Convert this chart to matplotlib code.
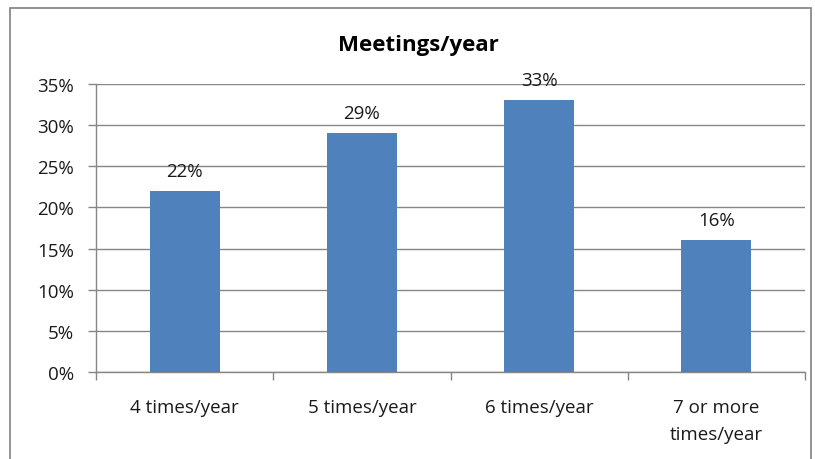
import matplotlib
matplotlib.use("Agg")
import matplotlib.pyplot as plt
from matplotlib.patches import Rectangle

categories = ["4 times/year", "5 times/year", "6 times/year", "7 or more\ntimes/year"]
values = [22, 29, 33, 16]
yticks = [0, 5, 10, 15, 20, 25, 30, 35]
ytick_labels = [f"{v}%" for v in yticks]
title = "Meetings/year"

plt.rcParams["font.family"] = ["Open Sans", "DejaVu Sans"]

fig = plt.figure(figsize=(8.15, 4.6), dpi=100)
ax = fig.add_axes([96 / 815, 87 / 460, 709 / 815, 288 / 460])

grid_col = "#868686"
bar_col = "#4F81BD"
text_col = "#1a1a1a"
fs = 13.5

x = list(range(len(categories)))
ax.bar(x, values, width=0.395, color=bar_col, zorder=3)

for xi, v in zip(x, values):
    ax.annotate(f"{v}%", (xi, v), xytext=(0, 8), textcoords="offset points",
                ha="center", va="bottom", fontsize=fs, color=text_col)

ax.set_xlim(-0.5, len(categories) - 0.5)
ax.set_ylim(0, 35)
ax.set_yticks(yticks)
ax.set_yticklabels(ytick_labels, fontsize=fs, color=text_col)
ax.yaxis.grid(True, color=grid_col, linewidth=1, zorder=0)
ax.tick_params(axis="y", length=6, color=grid_col, width=1, pad=10)

ax.set_xticks(x)
ax.set_xticklabels(categories, fontsize=fs, color=text_col, linespacing=1.6)
ax.tick_params(axis="x", length=0, pad=19)
ax.set_xticks([i - 0.5 for i in range(len(categories) + 1)], minor=True)
ax.tick_params(axis="x", which="minor", length=6, color=grid_col, width=1)

for side in ["top", "right"]:
    ax.spines[side].set_visible(False)
for side in ["left", "bottom"]:
    ax.spines[side].set_color(grid_col)
    ax.spines[side].set_linewidth(1)

fig.text(418 / 815, 1 - 45 / 460, title, ha="center", va="center",
         fontsize=16, fontweight="bold", color="#000000")

fig.patches.append(Rectangle((10 / 815, -0.05), 801 / 815, 1 - 9 / 460 + 0.05,
                             transform=fig.transFigure, fill=False,
                             edgecolor="#808080", linewidth=1.2))

fig.savefig("out.png", dpi=100)
